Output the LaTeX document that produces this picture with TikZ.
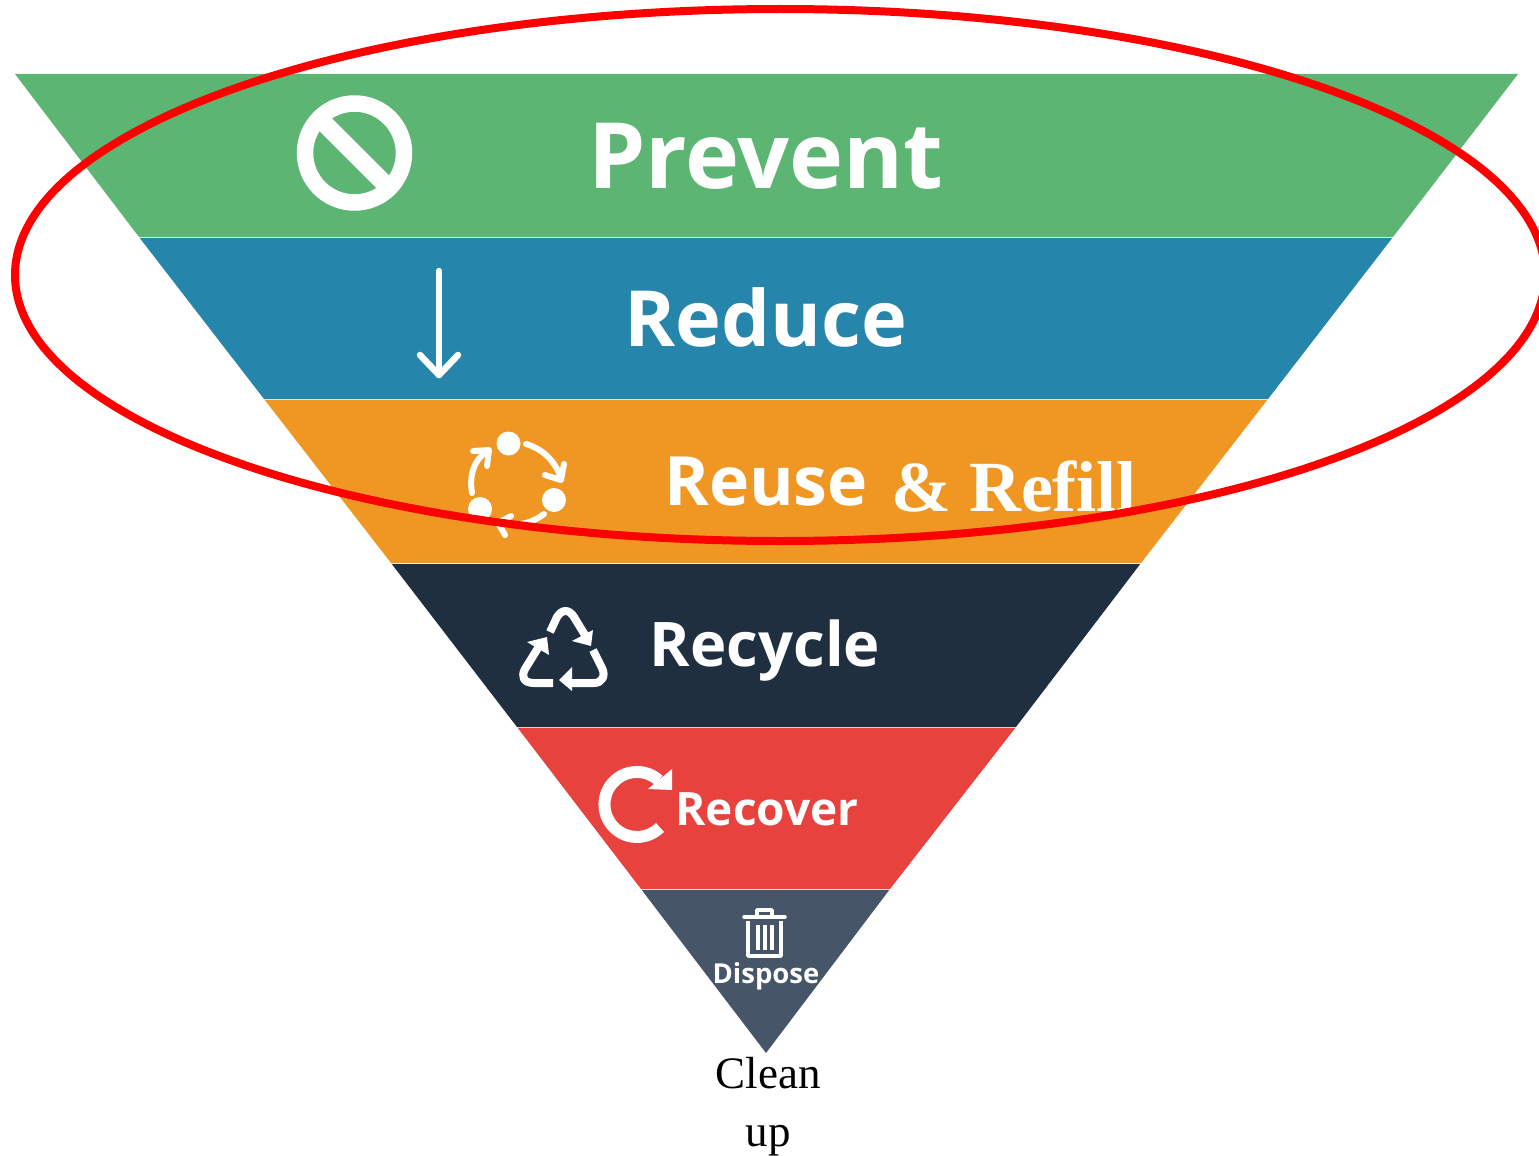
\documentclass[tikz,border=0pt]{standalone}
\usepackage{fontspec}
\setmainfont{Liberation Serif}
\newfontfamily\labelfont{Open Sans}[BoldFont={Open Sans Bold}]
\usetikzlibrary{arrows.meta}
\definecolor{cgreen}{HTML}{5DB573}
\definecolor{cblue}{HTML}{2685AB}
\definecolor{corange}{HTML}{F09723}
\definecolor{cnavy}{HTML}{1F2F3F}
\definecolor{cred}{HTML}{E8423F}
\definecolor{cslate}{HTML}{475569}
\tikzset{
  lab/.style={text=white,inner sep=0pt,anchor=center,font=\labelfont\bfseries},
  ser/.style={inner sep=0pt,anchor=center},
  ico/.style={draw=white,line width=#1,line cap=round,line join=round},
  ico/.default=6pt
}
\begin{document}
\begin{tikzpicture}[x=1pt,y=-1pt]
\useasboundingbox (0,0) rectangle (1539,1156);
\fill[white] (0,0) rectangle (1539,1156);
% bands
\path[fill=cgreen] (15,74) -- (1518,74) -- (1393,237) -- (139,237) -- cycle;
\path[fill=cblue] (139,237) -- (1393,237) -- (1268,399) -- (264,399) -- cycle;
\path[fill=corange] (264,399) -- (1268,399) -- (1141,563) -- (391,563) -- cycle;
\path[fill=cnavy] (391,563) -- (1141,563) -- (1016,727) -- (517,727) -- cycle;
\path[fill=cred] (517,727) -- (1016,727) -- (890,889) -- (641,889) -- cycle;
\path[fill=cslate] (641,889) -- (890,889) -- (766,1053) -- cycle;
\draw[white!80!cgreen,line width=1pt] (139,237.3) -- (1393,237.3);
\draw[white!80!cblue,line width=1pt] (264,399.3) -- (1268,399.3);
\draw[white!80!corange,line width=1pt] (391,563.3) -- (1141,563.3);
\draw[white!80!cnavy,line width=1pt] (517,727.3) -- (1016,727.3);
\draw[white!80!cred,line width=1pt] (641,889.3) -- (890,889.3);
% labels
\node[lab,font=\labelfont\bfseries\fontsize{91.5}{91.5}\selectfont] (prevent) at (766,156) {Prevent};
\node[lab,font=\labelfont\bfseries\fontsize{77.5}{77.5}\selectfont] (reduce) at (766,317) {Reduce};
\node[lab,font=\labelfont\bfseries\fontsize{68}{68}\selectfont] (reuse) at (766,482) {Reuse};
\node[ser,text=white,font=\bfseries\fontsize{72}{72}\selectfont] (refill) at (1014,486) {\& Refill};
\node[lab,font=\labelfont\bfseries\fontsize{61.5}{61.5}\selectfont] (recycle) at (765,651) {Recycle};
\node[lab,font=\labelfont\bfseries\fontsize{46}{46}\selectfont] (recover) at (767,809) {Recover};
\node[lab,font=\labelfont\bfseries\fontsize{27.5}{27.5}\selectfont] (dispose) at (766,976) {Dispose};
\node[ser,font=\fontsize{45}{58}\selectfont,align=center] (clean) at (768,1107) {Clean\\up};
% prevent icon
\draw[white,line width=16.5pt] (354.5,153) circle (49.5);
\draw[white,line width=18pt] (319,118) -- (390,189);
% reduce arrow
\draw[ico=6.5pt] (439,271) -- (439,375);
\draw[ico=6.5pt] (420,355) -- (439,375) -- (458,355);
% reuse icon
\fill[white] (508.5,443.5) circle (12);
\fill[white] (554,500) circle (12);
\fill[white] (480,509) circle (12);
\draw[ico] (526,444) .. controls (543,449) and (555,461) .. (561,478);
\draw[ico] (545,475) -- (561,480) -- (564,464);
\draw[ico] (472,493) .. controls (469,475) and (474,460) .. (487,451);
\draw[ico] (473,451) -- (489,450) -- (487,466);
\draw[ico] (544,514) .. controls (532,523) and (520,526) .. (504,524);
\draw[ico] (511,516) -- (498,523) -- (505,535);
% recycle icon
\draw[ico=8pt,line cap=butt] (550,632) -- (557,617) .. controls (562,609) and (569,609) .. (574,617) -- (588,640);
\fill[white] (593,630) -- (591,646) -- (572,641) -- cycle;
\draw[ico=8pt,line cap=butt] (553,683) -- (534,683) .. controls (523,683) and (521,676) .. (525,669) -- (538,648);
\fill[white] (527,642) -- (547,637) -- (549,655) -- cycle;
\draw[ico=8pt,line cap=butt] (593,650) -- (602,668) .. controls (606,676) and (602,683) .. (594,683) -- (572,683);
\fill[white] (572,667) -- (559,680) -- (572,691) -- cycle;
% recover icon
\draw[white,line width=12pt] (658.7,780.3) arc (-48:-315:32.5);
\fill[white] (672,769) -- (672,790) -- (648,789) -- cycle;
% dispose icon
\draw[white,line width=3.5pt,line join=round] (748,921) -- (748,956) -- (781,956) -- (781,921);
\draw[white,line width=3.5pt,line cap=round] (744,917) -- (785,917);
\draw[white,line width=3.5pt,line join=round] (757,916) -- (757,910) -- (772,910) -- (772,916);
\draw[white,line width=3.5pt] (758,925) -- (758,950) (765,925) -- (765,950) (772,925) -- (772,950);
% ellipse
\draw[red,line width=8pt] (780,275) ellipse (765 and 266);
\end{tikzpicture}
\end{document}
